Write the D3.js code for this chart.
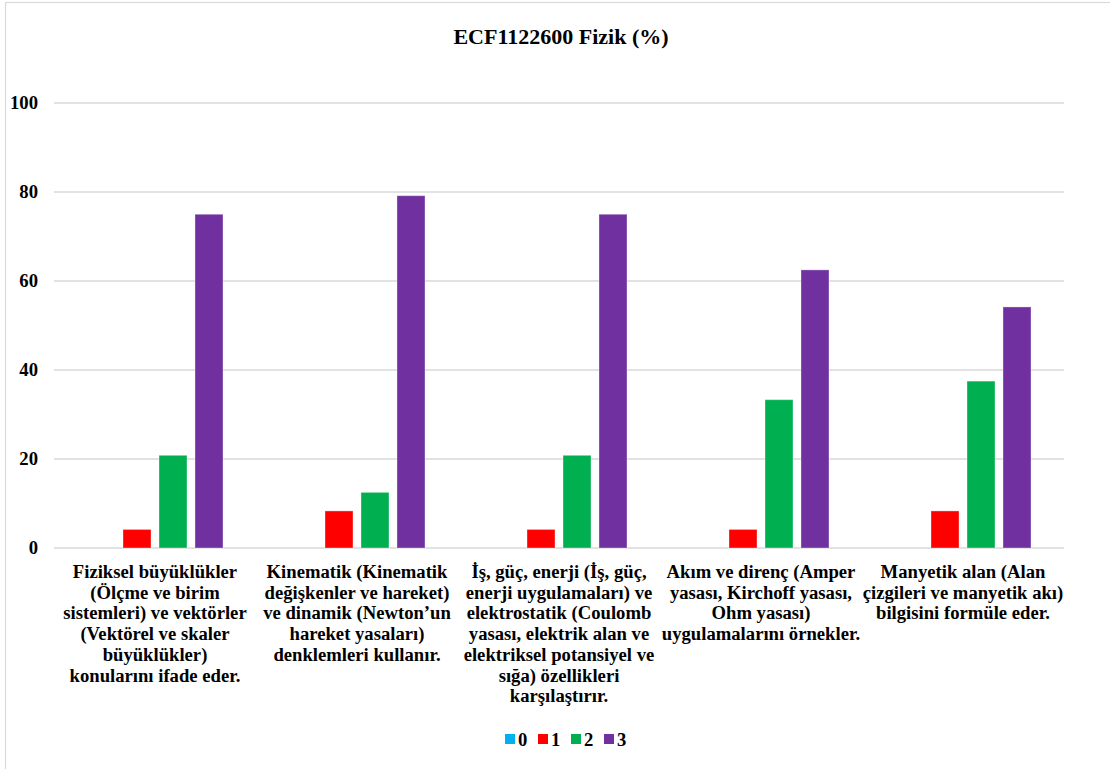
<!DOCTYPE html>
<html>
<head>
<meta charset="utf-8">
<script src="https://cdn.jsdelivr.net/npm/d3@7"></script>
<style>
  body { margin: 0; background: #fff; }
  text { font-family: "Liberation Serif", "Times New Roman", serif; font-weight: bold; fill: #000; }
</style>
</head>
<body>
<div id="chart"></div>
<script>
// data
const categories = ["c1", "c2", "c3", "c4", "c5"];
const categoryLines = [
  ["Fiziksel büyüklükler", "(Ölçme ve birim", "sistemleri) ve vektörler", "(Vektörel ve skaler", "büyüklükler)", "konularını ifade eder."],
  ["Kinematik (Kinematik", "değişkenler ve hareket)", "ve dinamik (Newton’un", "hareket yasaları)", "denklemleri kullanır."],
  ["İş, güç, enerji (İş, güç,", "enerji uygulamaları) ve", "elektrostatik (Coulomb", "yasası, elektrik alan ve", "elektriksel potansiyel ve", "sığa) özellikleri", "karşılaştırır."],
  ["Akım ve direnç (Amper", "yasası, Kirchoff yasası,", "Ohm yasası)", "uygulamalarını örnekler."],
  ["Manyetik alan (Alan", "çizgileri ve manyetik akı)", "bilgisini formüle eder."]
];
const seriesNames = ["0", "1", "2", "3"];
const series0 = [0, 0, 0, 0, 0];
const series1 = [4.17, 8.33, 4.17, 4.17, 8.33];
const series2 = [20.83, 12.5, 20.83, 33.33, 37.5];
const series3 = [75, 79.17, 75, 62.5, 54.17];
const yTicks = [0, 20, 40, 60, 80, 100];
const colors = ["#00b0f0", "#ff0000", "#00b050", "#7030a0"];

const allSeries = [series0, series1, series2, series3];
const width = 1110, height = 769;
const fontFamily = '"Liberation Serif", "Times New Roman", serif';

const svg = d3.select("#chart").append("svg")
  .attr("width", width)
  .attr("height", height);

// chart frame
svg.append("rect")
  .attr("x", 5.5).attr("y", 2.5)
  .attr("width", width + 20).attr("height", height + 20)
  .attr("fill", "#fff")
  .attr("stroke", "#d9d9d9")
  .attr("stroke-width", 1.2);

svg.append("text")
  .attr("x", 561).attr("y", 44)
  .attr("text-anchor", "middle")
  .style("font-size", "22px")
  .text("ECF1122600 Fizik (%)");

const plot = {left: 54, right: 1064, top: 103, bottom: 548};

const x0 = d3.scaleBand()
  .domain(categories)
  .range([plot.left, plot.right]);

const x1 = d3.scaleBand()
  .domain(seriesNames)
  .range([0, x0.bandwidth()])
  .paddingInner(0.222)
  .paddingOuter(0.917);

const y = d3.scaleLinear()
  .domain([0, 100])
  .range([plot.bottom, plot.top]);

// gridlines
svg.append("g")
  .selectAll("line")
  .data(yTicks)
  .enter().append("line")
  .attr("x1", plot.left).attr("x2", plot.right)
  .attr("y1", d => y(d)).attr("y2", d => y(d))
  .attr("stroke", "#d9d9d9")
  .attr("stroke-width", 1.5);

// y axis labels
const yAxis = d3.axisLeft(y).tickValues(yTicks).tickSize(0).tickPadding(16);
const gY = svg.append("g")
  .attr("transform", `translate(${plot.left},0)`)
  .call(yAxis);
gY.select(".domain").remove();
gY.selectAll("text")
  .style("font-family", fontFamily)
  .style("font-weight", "bold")
  .style("font-size", "18.67px")
  .attr("fill", "#000");

// bars
const groups = svg.selectAll(".cat")
  .data(categories)
  .enter().append("g")
  .attr("class", "cat")
  .attr("transform", c => `translate(${x0(c)},0)`);

groups.selectAll("rect")
  .data((c, i) => seriesNames.map((s, j) => ({s, j, v: allSeries[j][i]})))
  .enter().append("rect")
  .attr("x", d => x1(d.s))
  .attr("width", x1.bandwidth())
  .attr("y", d => y(d.v))
  .attr("height", d => y(0) - y(d.v))
  .attr("fill", d => colors[d.j])
  .attr("stroke", "rgba(255,255,255,0.35)")
  .attr("stroke-width", 1);

// category labels
groups.append("text")
  .attr("text-anchor", "middle")
  .style("font-size", "18.67px")
  .selectAll("tspan")
  .data((c, i) => categoryLines[i])
  .enter().append("tspan")
  .attr("x", x0.bandwidth() / 2)
  .attr("y", (d, k) => 578 + k * 20.7)
  .text(d => d);

// legend
const legend = svg.append("g")
  .attr("transform", "translate(505,734)");
const items = legend.selectAll("g")
  .data(seriesNames)
  .enter().append("g")
  .attr("transform", (d, i) => `translate(${i * 33},0)`);
items.append("rect")
  .attr("width", 10).attr("height", 10)
  .attr("fill", (d, i) => colors[i]);
items.append("text")
  .attr("x", 13).attr("y", 12)
  .style("font-size", "18.67px")
  .text(d => d);
</script>
</body>
</html>
